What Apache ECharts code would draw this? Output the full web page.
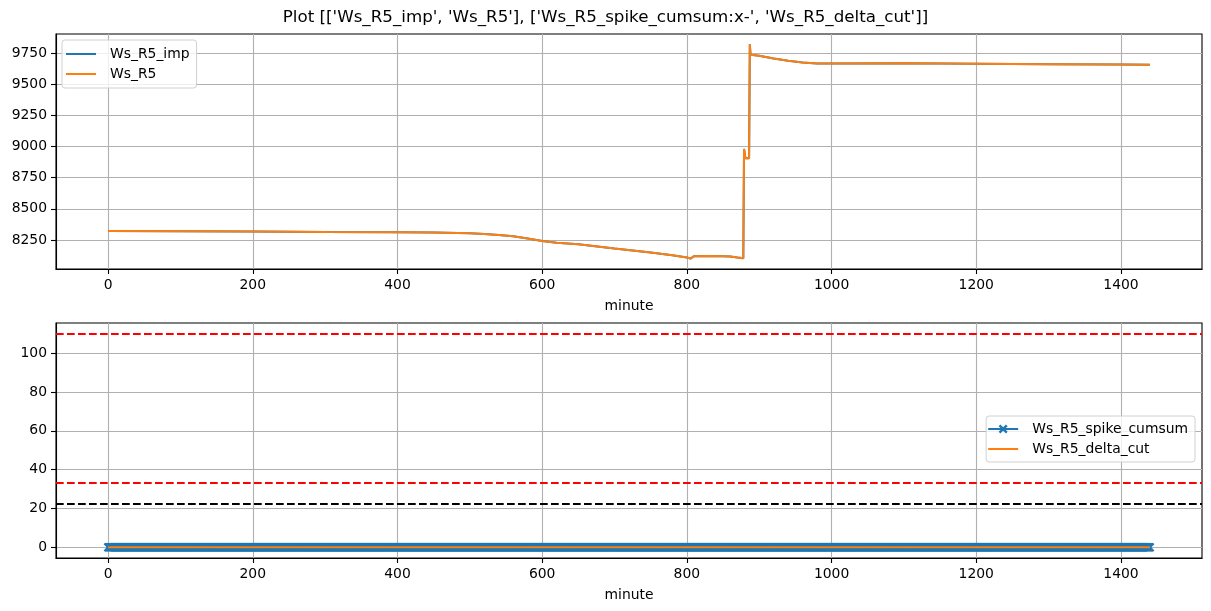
<!DOCTYPE html>
<html>
<head>
<meta charset="utf-8">
<script src="https://cdn.jsdelivr.net/npm/echarts@6/dist/echarts.min.js"></script>
<style>
html,body{margin:0;padding:0;background:#fff;}
#chart{width:1211px;height:611px;}
</style>
</head>
<body>
<div id="chart"></div>
<script>
// ---------- data ----------
const titleText = "Plot [['Ws_R5_imp', 'Ws_R5'], ['Ws_R5_spike_cumsum:x-', 'Ws_R5_delta_cut']]";
const xTicks = [0, 200, 400, 600, 800, 1000, 1200, 1400];
const yTicksTop = [8250, 8500, 8750, 9000, 9250, 9500, 9750];
const yTicksBottom = [0, 20, 40, 60, 80, 100];

const wsR5Minutes = [0,100,200,300,400,450,500,520,540,560,580,600,620,650,700,750,780,800,805,810,812,830,850,860,870,878,879,881,886,887,888,900,920,940,960,980,1000,1100,1200,1300,1400,1440];
const wsR5Values  = [8322,8320,8317,8314,8312,8310,8303,8298,8290,8279,8262,8242,8228,8215,8182,8150,8128,8110,8100,8120,8125,8122,8120,8118,8110,8104,8980,8905,8905,9820,9735,9728,9705,9687,9673,9666,9665,9668,9664,9660,9657,9655];
const wsR5ImpValues = [8322,8320,8317,8314,8312,8310,8303,8298,8290,8279,8262,8242,8228,8215,8182,8150,8128,8110,8100,8120,8125,8122,8120,8118,8110,8104,8980,8905,8905,9820,9735,9728,9705,9687,9673,9666,9665,9668,9664,9660,9657,9655];

// one value per minute (0..1440); the array index is the minute
const spikeCumsum = [
0,0,0,0,0,0,0,0,0,0,0,0,0,0,0,0,0,0,0,0,0,0,0,0,0,0,0,0,0,0,0,0,0,0,0,0,0,0,0,0,0,0,0,0,0,0,0,0,0,0,0,0,0,0,0,0,0,0,0,0,
0,0,0,0,0,0,0,0,0,0,0,0,0,0,0,0,0,0,0,0,0,0,0,0,0,0,0,0,0,0,0,0,0,0,0,0,0,0,0,0,0,0,0,0,0,0,0,0,0,0,0,0,0,0,0,0,0,0,0,0,
0,0,0,0,0,0,0,0,0,0,0,0,0,0,0,0,0,0,0,0,0,0,0,0,0,0,0,0,0,0,0,0,0,0,0,0,0,0,0,0,0,0,0,0,0,0,0,0,0,0,0,0,0,0,0,0,0,0,0,0,
0,0,0,0,0,0,0,0,0,0,0,0,0,0,0,0,0,0,0,0,0,0,0,0,0,0,0,0,0,0,0,0,0,0,0,0,0,0,0,0,0,0,0,0,0,0,0,0,0,0,0,0,0,0,0,0,0,0,0,0,
0,0,0,0,0,0,0,0,0,0,0,0,0,0,0,0,0,0,0,0,0,0,0,0,0,0,0,0,0,0,0,0,0,0,0,0,0,0,0,0,0,0,0,0,0,0,0,0,0,0,0,0,0,0,0,0,0,0,0,0,
0,0,0,0,0,0,0,0,0,0,0,0,0,0,0,0,0,0,0,0,0,0,0,0,0,0,0,0,0,0,0,0,0,0,0,0,0,0,0,0,0,0,0,0,0,0,0,0,0,0,0,0,0,0,0,0,0,0,0,0,
0,0,0,0,0,0,0,0,0,0,0,0,0,0,0,0,0,0,0,0,0,0,0,0,0,0,0,0,0,0,0,0,0,0,0,0,0,0,0,0,0,0,0,0,0,0,0,0,0,0,0,0,0,0,0,0,0,0,0,0,
0,0,0,0,0,0,0,0,0,0,0,0,0,0,0,0,0,0,0,0,0,0,0,0,0,0,0,0,0,0,0,0,0,0,0,0,0,0,0,0,0,0,0,0,0,0,0,0,0,0,0,0,0,0,0,0,0,0,0,0,
0,0,0,0,0,0,0,0,0,0,0,0,0,0,0,0,0,0,0,0,0,0,0,0,0,0,0,0,0,0,0,0,0,0,0,0,0,0,0,0,0,0,0,0,0,0,0,0,0,0,0,0,0,0,0,0,0,0,0,0,
0,0,0,0,0,0,0,0,0,0,0,0,0,0,0,0,0,0,0,0,0,0,0,0,0,0,0,0,0,0,0,0,0,0,0,0,0,0,0,0,0,0,0,0,0,0,0,0,0,0,0,0,0,0,0,0,0,0,0,0,
0,0,0,0,0,0,0,0,0,0,0,0,0,0,0,0,0,0,0,0,0,0,0,0,0,0,0,0,0,0,0,0,0,0,0,0,0,0,0,0,0,0,0,0,0,0,0,0,0,0,0,0,0,0,0,0,0,0,0,0,
0,0,0,0,0,0,0,0,0,0,0,0,0,0,0,0,0,0,0,0,0,0,0,0,0,0,0,0,0,0,0,0,0,0,0,0,0,0,0,0,0,0,0,0,0,0,0,0,0,0,0,0,0,0,0,0,0,0,0,0,
0,0,0,0,0,0,0,0,0,0,0,0,0,0,0,0,0,0,0,0,0,0,0,0,0,0,0,0,0,0,0,0,0,0,0,0,0,0,0,0,0,0,0,0,0,0,0,0,0,0,0,0,0,0,0,0,0,0,0,0,
0,0,0,0,0,0,0,0,0,0,0,0,0,0,0,0,0,0,0,0,0,0,0,0,0,0,0,0,0,0,0,0,0,0,0,0,0,0,0,0,0,0,0,0,0,0,0,0,0,0,0,0,0,0,0,0,0,0,0,0,
0,0,0,0,0,0,0,0,0,0,0,0,0,0,0,0,0,0,0,0,0,0,0,0,0,0,0,0,0,0,0,0,0,0,0,0,0,0,0,0,0,0,0,0,0,0,0,0,0,0,0,0,0,0,0,0,0,0,0,0,
0,0,0,0,0,0,0,0,0,0,0,0,0,0,0,0,0,0,0,0,0,0,0,0,0,0,0,0,0,0,0,0,0,0,0,0,0,0,0,0,0,0,0,0,0,0,0,0,0,0,0,0,0,0,0,0,0,0,0,0,
0,0,0,0,0,0,0,0,0,0,0,0,0,0,0,0,0,0,0,0,0,0,0,0,0,0,0,0,0,0,0,0,0,0,0,0,0,0,0,0,0,0,0,0,0,0,0,0,0,0,0,0,0,0,0,0,0,0,0,0,
0,0,0,0,0,0,0,0,0,0,0,0,0,0,0,0,0,0,0,0,0,0,0,0,0,0,0,0,0,0,0,0,0,0,0,0,0,0,0,0,0,0,0,0,0,0,0,0,0,0,0,0,0,0,0,0,0,0,0,0,
0,0,0,0,0,0,0,0,0,0,0,0,0,0,0,0,0,0,0,0,0,0,0,0,0,0,0,0,0,0,0,0,0,0,0,0,0,0,0,0,0,0,0,0,0,0,0,0,0,0,0,0,0,0,0,0,0,0,0,0,
0,0,0,0,0,0,0,0,0,0,0,0,0,0,0,0,0,0,0,0,0,0,0,0,0,0,0,0,0,0,0,0,0,0,0,0,0,0,0,0,0,0,0,0,0,0,0,0,0,0,0,0,0,0,0,0,0,0,0,0,
0,0,0,0,0,0,0,0,0,0,0,0,0,0,0,0,0,0,0,0,0,0,0,0,0,0,0,0,0,0,0,0,0,0,0,0,0,0,0,0,0,0,0,0,0,0,0,0,0,0,0,0,0,0,0,0,0,0,0,0,
0,0,0,0,0,0,0,0,0,0,0,0,0,0,0,0,0,0,0,0,0,0,0,0,0,0,0,0,0,0,0,0,0,0,0,0,0,0,0,0,0,0,0,0,0,0,0,0,0,0,0,0,0,0,0,0,0,0,0,0,
0,0,0,0,0,0,0,0,0,0,0,0,0,0,0,0,0,0,0,0,0,0,0,0,0,0,0,0,0,0,0,0,0,0,0,0,0,0,0,0,0,0,0,0,0,0,0,0,0,0,0,0,0,0,0,0,0,0,0,0,
0,0,0,0,0,0,0,0,0,0,0,0,0,0,0,0,0,0,0,0,0,0,0,0,0,0,0,0,0,0,0,0,0,0,0,0,0,0,0,0,0,0,0,0,0,0,0,0,0,0,0,0,0,0,0,0,0,0,0,0,
0
];
const deltaCutMinutes = [0, 1440];
const deltaCutValues = [0, 0];

const thresholdRed = [110, 33];
const thresholdBlack = [22.5];

// ---------- chart ----------
const FONT = 'DejaVu Sans';
const blue = '#1f77b4', orange = '#ff7f0e';
const pairs = (xs, ys) => xs.map((x, i) => [x, ys[i]]);
const xMarker = 'path://M0,1.6 L1.6,0 L5,3.4 L8.4,0 L10,1.6 L6.6,5 L10,8.4 L8.4,10 L5,6.6 L1.6,10 L0,8.4 L3.4,5 Z';
const lineIcon = 'path://M0,0 M0,6 L30,6 L30,8 L0,8 Z M30,14';
const lineXIcon = 'path://M0,0 M0,6 L30,6 L30,8 L0,8 Z M10.5,4.2 L12.2,2.5 L15,5.3 L17.8,2.5 L19.5,4.2 L16.7,7 L19.5,9.8 L17.8,11.5 L15,8.7 L12.2,11.5 L10.5,9.8 L13.3,7 Z M30,14';
const plain = v => String(v);

function xAxis(gridIndex) {
  return {
    type: 'value', gridIndex, min: -72, max: 1512,
    name: 'minute', nameLocation: 'middle', nameGap: 30,
    nameTextStyle: { fontFamily: FONT, fontSize: 13.9, color: '#000' },
    axisLine: { show: true, onZero: false, lineStyle: { color: '#000', width: 1.1 } },
    axisTick: { show: true, inside: false, length: 5, customValues: xTicks, lineStyle: { color: '#000', width: 1.1 } },
    axisLabel: { customValues: xTicks, formatter: plain, margin: 9, fontFamily: FONT, fontSize: 13.9, color: '#000' },
    splitLine: { show: true, lineStyle: { color: '#b0b0b0', width: 1.1 } }
  };
}
function yAxis(gridIndex, min, max, ticks) {
  return {
    type: 'value', gridIndex, min, max,
    axisLine: { show: true, onZero: false, lineStyle: { color: '#000', width: 1.1 } },
    axisTick: { show: true, inside: false, length: 5, customValues: ticks, lineStyle: { color: '#000', width: 1.1 } },
    axisLabel: { customValues: ticks, formatter: plain, margin: 9, fontFamily: FONT, fontSize: 13.9, color: '#000' },
    splitLine: { show: true, lineStyle: { color: '#b0b0b0', width: 1.1 } }
  };
}
const legendBase = {
  orient: 'vertical', itemWidth: 30, itemHeight: 14, itemGap: 6,
  backgroundColor: 'rgba(255,255,255,0.8)', borderColor: '#d0d0d0', borderWidth: 1, borderRadius: 3,
  textStyle: { fontFamily: FONT, fontSize: 13.9, color: '#000', padding: [0, 0, 0, 9] },
  selectedMode: false
};

const option = {
  animation: false,
  backgroundColor: '#fff',
  title: {
    text: titleText, left: 'center', top: 4,
    textStyle: { fontFamily: FONT, fontSize: 16.7, fontWeight: 'normal', color: '#000' }
  },
  legend: [
    Object.assign({}, legendBase, { left: 62, top: 40, padding: [7, 7, 7, 4],
      data: [{ name: 'Ws_R5_imp', icon: lineIcon }, { name: 'Ws_R5', icon: lineIcon }] }),
    Object.assign({}, legendBase, { right: 16, top: 416, padding: [6, 7, 6, 2],
      data: [{ name: 'Ws_R5_spike_cumsum', icon: lineXIcon }, { name: 'Ws_R5_delta_cut', icon: lineIcon }] })
  ],
  grid: [
    { left: 56, right: 9, top: 34, height: 235, show: true, borderColor: '#000', borderWidth: 1.1, backgroundColor: 'transparent' },
    { left: 56, right: 9, top: 323, height: 235, show: true, borderColor: '#000', borderWidth: 1.1, backgroundColor: 'transparent' }
  ],
  xAxis: [xAxis(0), xAxis(1)],
  yAxis: [yAxis(0, 8017, 9902, yTicksTop), yAxis(1, -5.5, 115.5, yTicksBottom)],
  series: [
    { name: 'Ws_R5_imp', type: 'line', xAxisIndex: 0, yAxisIndex: 0, data: pairs(wsR5Minutes, wsR5ImpValues),
      showSymbol: false, symbol: 'none', color: blue, lineStyle: { color: blue, width: 2 } },
    { name: 'Ws_R5', type: 'line', xAxisIndex: 0, yAxisIndex: 0, data: pairs(wsR5Minutes, wsR5Values),
      showSymbol: false, symbol: 'none', color: orange, lineStyle: { color: orange, width: 2 } },
    { name: 'Ws_R5_spike_cumsum', type: 'line', xAxisIndex: 1, yAxisIndex: 1, z: 2,
      data: spikeCumsum.map((v, minute) => [minute, v]),
      symbol: xMarker, symbolSize: 9, showSymbol: true, showAllSymbol: true, color: blue,
      itemStyle: { color: blue, borderWidth: 0 }, lineStyle: { color: blue, width: 2 } },
    { name: 'Ws_R5_delta_cut', type: 'line', xAxisIndex: 1, yAxisIndex: 1, z: 4, data: pairs(deltaCutMinutes, deltaCutValues),
      showSymbol: false, symbol: 'none', color: orange, lineStyle: { color: orange, width: 2 },
      markLine: {
        silent: true, symbol: 'none', label: { show: false },
        data: thresholdRed.map(v => ({ yAxis: v, lineStyle: { color: '#ff0000', type: [7.7, 3.3], width: 2 } }))
          .concat(thresholdBlack.map(v => ({ yAxis: v, lineStyle: { color: '#000', type: [7.7, 3.3], width: 2 } })))
      } }
  ]
};
const chart = echarts.init(document.getElementById('chart'), null, { renderer: 'canvas' });
chart.setOption(option);
</script>
</body>
</html>
